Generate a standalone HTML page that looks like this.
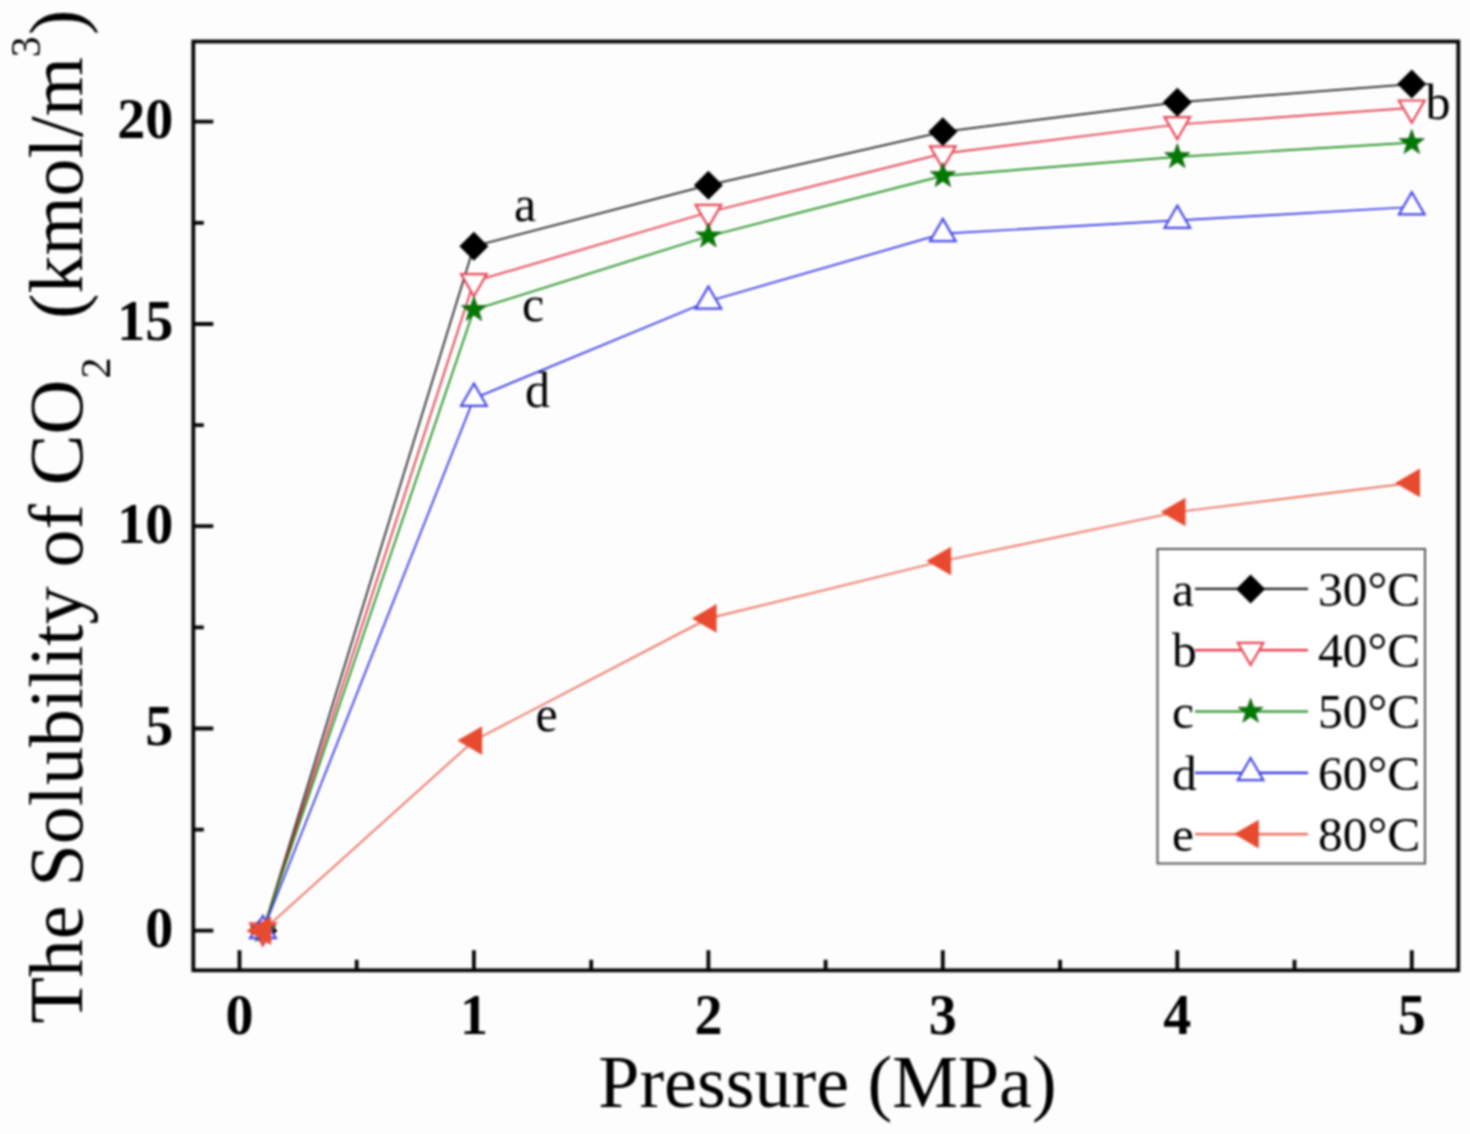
<!DOCTYPE html>
<html><head><meta charset="utf-8"><style>
html,body{margin:0;padding:0;background:#fdfdfd;overflow:hidden;width:1470px;height:1134px;}
svg{display:block;filter:blur(0.8px);}
text{font-family:"Liberation Serif",serif;fill:#000;}
.tl{font-weight:bold;font-size:56px;}
.cl{font-size:50px;}
.lg{font-size:49.5px;}
.at{font-size:74px;}
.at2 text{font-size:76px;}
.at2 .sub{font-size:42px;}
</style></head><body>
<svg width="1470" height="1134" viewBox="0 0 1470 1134">
<rect x="193.3" y="41.5" width="1265.0" height="928.8" fill="none" stroke="#050505" stroke-width="3.8"/>
<path d="M193.3 930.7H213.3 M193.3 728.5H213.3 M193.3 526.2H213.3 M193.3 324.0H213.3 M193.3 121.7H213.3 M193.3 829.6H203.8 M193.3 627.3H203.8 M193.3 425.1H203.8 M193.3 222.8H203.8 M239.5 970.3V950.3 M473.9 970.3V950.3 M708.4 970.3V950.3 M942.8 970.3V950.3 M1177.3 970.3V950.3 M1411.8 970.3V950.3 M356.7 970.3V959.8 M591.2 970.3V959.8 M825.6 970.3V959.8 M1060.1 970.3V959.8 M1294.5 970.3V959.8" stroke="#050505" stroke-width="3.8" fill="none"/>
<text x="173.2" y="947.0" class="tl" text-anchor="end">0</text>
<text x="173.2" y="744.8" class="tl" text-anchor="end">5</text>
<text x="173.2" y="542.5" class="tl" text-anchor="end">10</text>
<text x="173.2" y="340.3" class="tl" text-anchor="end">15</text>
<text x="173.2" y="138.0" class="tl" text-anchor="end">20</text>
<text x="239.5" y="1034" class="tl" text-anchor="middle">0</text>
<text x="473.9" y="1034" class="tl" text-anchor="middle">1</text>
<text x="708.4" y="1034" class="tl" text-anchor="middle">2</text>
<text x="942.8" y="1034" class="tl" text-anchor="middle">3</text>
<text x="1177.3" y="1034" class="tl" text-anchor="middle">4</text>
<text x="1411.8" y="1034" class="tl" text-anchor="middle">5</text>
<path d="M262.9 930.7L473.9 246.3L708.4 185.2L942.8 131.8L1177.3 102.3L1411.8 84.1" fill="none" stroke="#202020" stroke-width="1.7"/>
<path d="M262.9 930.7L473.9 281.5L708.4 212.3L942.8 153.7L1177.3 124.5L1411.8 107.9" fill="none" stroke="#e43040" stroke-width="1.7"/>
<path d="M262.9 930.7L473.9 309.8L708.4 236.2L942.8 175.9L1177.3 156.9L1411.8 142.7" fill="none" stroke="#108a10" stroke-width="1.7"/>
<path d="M262.9 930.7L473.9 398.4L708.4 301.3L942.8 233.7L1177.3 220.4L1411.8 207.0" fill="none" stroke="#3030e8" stroke-width="1.7"/>
<path d="M262.9 930.7L473.9 740.6L708.4 618.4L942.8 561.0L1177.3 512.0L1411.8 482.9" fill="none" stroke="#ec6450" stroke-width="1.7"/>
<path d="M262.9 916.2L277.4 930.7L262.9 945.2L248.4 930.7Z" fill="#000"/>
<path d="M473.9 231.8L488.4 246.3L473.9 260.8L459.4 246.3Z" fill="#000"/>
<path d="M708.4 170.7L722.9 185.2L708.4 199.7L693.9 185.2Z" fill="#000"/>
<path d="M942.8 117.3L957.3 131.8L942.8 146.3L928.3 131.8Z" fill="#000"/>
<path d="M1177.3 87.8L1191.8 102.3L1177.3 116.8L1162.8 102.3Z" fill="#000"/>
<path d="M1411.8 69.6L1426.2 84.1L1411.8 98.6L1397.2 84.1Z" fill="#000"/>
<path d="M262.9 945.5L275.8 923.3L250.1 923.3Z" fill="#e85a48" stroke="#e84858" stroke-width="2.2" stroke-linejoin="miter"/>
<path d="M473.9 296.3L486.8 274.1L461.1 274.1Z" fill="#fff" stroke="#e84858" stroke-width="2.2" stroke-linejoin="miter"/>
<path d="M708.4 227.1L721.2 204.9L695.6 204.9Z" fill="#fff" stroke="#e84858" stroke-width="2.2" stroke-linejoin="miter"/>
<path d="M942.8 168.5L955.7 146.3L930.0 146.3Z" fill="#fff" stroke="#e84858" stroke-width="2.2" stroke-linejoin="miter"/>
<path d="M1177.3 139.3L1190.1 117.1L1164.5 117.1Z" fill="#fff" stroke="#e84858" stroke-width="2.2" stroke-linejoin="miter"/>
<path d="M1411.8 122.7L1424.6 100.5L1398.9 100.5Z" fill="#fff" stroke="#e84858" stroke-width="2.2" stroke-linejoin="miter"/>
<path d="M262.9 917.5L266.0 926.4L275.5 926.6L268.0 932.3L270.7 941.4L262.9 936.0L255.2 941.4L257.9 932.3L250.4 926.6L259.8 926.4Z" fill="#007a00" stroke="#1d5a1d" stroke-width="0.8" stroke-linejoin="round"/>
<path d="M473.9 296.6L477.1 305.5L486.5 305.7L479.0 311.4L481.7 320.5L473.9 315.1L466.2 320.5L468.9 311.4L461.4 305.7L470.8 305.5Z" fill="#007a00" stroke="#1d5a1d" stroke-width="0.8" stroke-linejoin="round"/>
<path d="M708.4 223.0L711.5 231.9L721.0 232.1L713.4 237.8L716.2 246.9L708.4 241.5L700.6 246.9L703.4 237.8L695.8 232.1L705.3 231.9Z" fill="#007a00" stroke="#1d5a1d" stroke-width="0.8" stroke-linejoin="round"/>
<path d="M942.8 162.7L946.0 171.6L955.4 171.8L947.9 177.5L950.6 186.6L942.8 181.2L935.1 186.6L937.8 177.5L930.3 171.8L939.7 171.6Z" fill="#007a00" stroke="#1d5a1d" stroke-width="0.8" stroke-linejoin="round"/>
<path d="M1177.3 143.7L1180.4 152.6L1189.9 152.8L1182.3 158.5L1185.1 167.6L1177.3 162.2L1169.5 167.6L1172.3 158.5L1164.7 152.8L1174.2 152.6Z" fill="#007a00" stroke="#1d5a1d" stroke-width="0.8" stroke-linejoin="round"/>
<path d="M1411.8 129.5L1414.9 138.5L1424.3 138.7L1416.8 144.4L1419.5 153.4L1411.8 148.0L1404.0 153.4L1406.7 144.4L1399.2 138.7L1408.6 138.5Z" fill="#007a00" stroke="#1d5a1d" stroke-width="0.8" stroke-linejoin="round"/>
<path d="M262.9 915.9L275.8 938.1L250.1 938.1Z" fill="#fff" stroke="#4848e8" stroke-width="2.2" stroke-linejoin="miter"/>
<path d="M473.9 383.6L486.8 405.8L461.1 405.8Z" fill="#fff" stroke="#4848e8" stroke-width="2.2" stroke-linejoin="miter"/>
<path d="M708.4 286.5L721.2 308.7L695.6 308.7Z" fill="#fff" stroke="#4848e8" stroke-width="2.2" stroke-linejoin="miter"/>
<path d="M942.8 218.9L955.7 241.1L930.0 241.1Z" fill="#fff" stroke="#4848e8" stroke-width="2.2" stroke-linejoin="miter"/>
<path d="M1177.3 205.6L1190.1 227.8L1164.5 227.8Z" fill="#fff" stroke="#4848e8" stroke-width="2.2" stroke-linejoin="miter"/>
<path d="M1411.8 192.2L1424.6 214.4L1398.9 214.4Z" fill="#fff" stroke="#4848e8" stroke-width="2.2" stroke-linejoin="miter"/>
<path d="M246.4 930.7L271.2 916.4L271.2 945.0Z" fill="#e84a30"/>
<path d="M457.4 740.6L482.2 726.3L482.2 754.9Z" fill="#e84a30"/>
<path d="M691.9 618.4L716.6 604.1L716.6 632.7Z" fill="#e84a30"/>
<path d="M926.3 561.0L951.1 546.7L951.1 575.3Z" fill="#e84a30"/>
<path d="M1160.8 512.0L1185.5 497.8L1185.5 526.3Z" fill="#e84a30"/>
<path d="M1395.2 482.9L1420.0 468.6L1420.0 497.2Z" fill="#e84a30"/>
<text x="514" y="221" class="cl">a</text>
<text x="522" y="321" class="cl">c</text>
<text x="525" y="407" class="cl">d</text>
<text x="535.5" y="731" class="cl">e</text>
<text x="1425.5" y="118.5" class="cl">b</text>
<rect x="1157.5" y="549" width="267.5" height="314.5" fill="#fff" stroke="#555" stroke-width="2"/>
<path d="M1195 588.9H1308" stroke="#202020" stroke-width="2.2"/>
<path d="M1250.6 574.4L1265.1 588.9L1250.6 603.4L1236.1 588.9Z" fill="#000"/>
<text x="1172" y="605.7" class="lg">a</text>
<text x="1318" y="605.7" class="lg">30&#176;C</text>
<path d="M1195 650.2H1308" stroke="#e43040" stroke-width="2.2"/>
<path d="M1250.6 665.0L1263.4 642.8L1237.8 642.8Z" fill="#fff" stroke="#e84858" stroke-width="2.2" stroke-linejoin="miter"/>
<text x="1172" y="667.0" class="lg">b</text>
<text x="1318" y="667.0" class="lg">40&#176;C</text>
<path d="M1195 711.5H1308" stroke="#108a10" stroke-width="2.2"/>
<path d="M1250.6 698.3L1253.7 707.2L1263.2 707.4L1255.6 713.1L1258.4 722.2L1250.6 716.8L1242.8 722.2L1245.6 713.1L1238.0 707.4L1247.5 707.2Z" fill="#007a00" stroke="#1d5a1d" stroke-width="0.8" stroke-linejoin="round"/>
<text x="1172" y="728.3" class="lg">c</text>
<text x="1318" y="728.3" class="lg">50&#176;C</text>
<path d="M1195 772.8H1308" stroke="#3030e8" stroke-width="2.2"/>
<path d="M1250.6 758.0L1263.4 780.2L1237.8 780.2Z" fill="#fff" stroke="#4848e8" stroke-width="2.2" stroke-linejoin="miter"/>
<text x="1172" y="789.6" class="lg">d</text>
<text x="1318" y="789.6" class="lg">60&#176;C</text>
<path d="M1195 834.1H1308" stroke="#ec6450" stroke-width="2.2"/>
<path d="M1234.1 834.1L1258.8 819.8L1258.8 848.4Z" fill="#e84a30"/>
<text x="1172" y="850.9" class="lg">e</text>
<text x="1318" y="850.9" class="lg">80&#176;C</text>
<text x="598.3" y="1106.8" class="at">Pressure (MPa)</text>
<g transform="translate(81.5 1024) rotate(-90)" class="at2"><text x="0.4" y="0">The Solubility of CO</text><text x="645.4" y="28.5" class="sub">2</text><text x="705.2" y="0">(kmol/m</text><text x="966.7" y="-42" class="sub">3</text><text x="989" y="0">)</text></g>
</svg></body></html>
